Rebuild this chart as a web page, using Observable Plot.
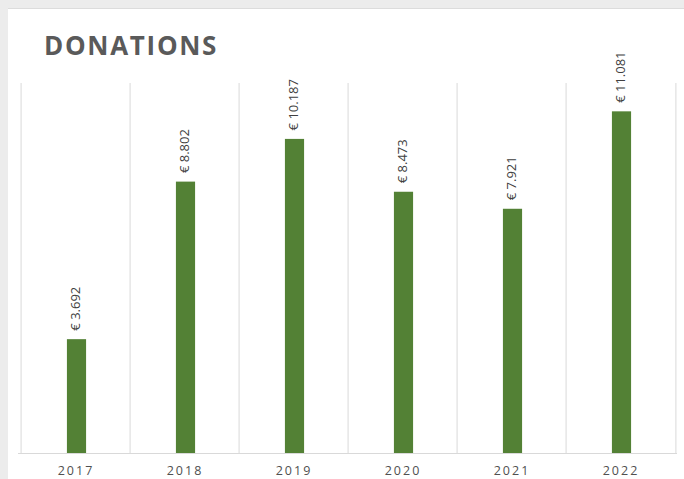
<!DOCTYPE html>
<html>
<head>
<meta charset="utf-8">
<script src="https://cdn.jsdelivr.net/npm/d3@7"></script>
<script src="https://cdn.jsdelivr.net/npm/@observablehq/plot@0.6"></script>
<style>
  html, body { margin: 0; padding: 0; background: #ececec; width: 684px; height: 479px; overflow: hidden; }
  #panel { position: absolute; left: 8px; top: 8px; width: 676px; height: 471px; background: #fff; border-top: 1px solid #dcdcdc; box-sizing: border-box; }
  #title { position: absolute; left: 36px; top: 18px; margin: 0; font-family: "Open Sans", sans-serif; font-weight: 700; font-size: 26px; line-height: normal; letter-spacing: 1.7px; color: #5a5a5a; z-index: 2; }
  #chart { position: absolute; left: 0; top: -1px; z-index: 1; }
</style>
</head>
<body>
<div id="panel">
  <div id="chart"></div>
  <h1 id="title">DONATIONS</h1>
</div>
<script>
const years = ["2017", "2018", "2019", "2020", "2021", "2022"];
const donations = [3692, 8802, 10187, 8473, 7921, 11081];
const yMax = 12000;

const data = years.map((y, i) => ({year: y, value: donations[i]}));
const nl = d3.formatLocale({decimal: ",", thousands: ".", grouping: [3], currency: ["€ ", ""]});
const fmt = nl.format("$,.0f");

const W = 676, H = 472, ml = 10, mr = 7, mt = 75, mb = 27;
const bw = (W - ml - mr) / years.length;

const plot = Plot.plot({
  width: W,
  height: H,
  marginLeft: ml,
  marginRight: mr,
  marginTop: mt,
  marginBottom: mb,
  x: {domain: years, padding: 0, label: null, tickSize: 0, tickPadding: 13},
  y: {domain: [0, yMax], axis: null},
  style: {fontFamily: "Open Sans, sans-serif", background: "transparent", overflow: "visible"},
  marks: [
    Plot.ruleX(years, {x: d => d, dx: -bw / 2, y1: 0, y2: yMax, stroke: "#d9d9d9"}),
    Plot.ruleX([years[years.length - 1]], {x: d => d, dx: bw / 2, y1: 0, y2: yMax, stroke: "#d9d9d9"}),
    Plot.ruleY([0], {stroke: "#d9d9d9"}),
    Plot.barY(data, {x: "year", y: "value", fill: "#538135", insetLeft: (bw - 20) / 2 + 1, insetRight: (bw - 20) / 2 - 1}),
    Plot.text(data, {x: "year", y: "value", text: d => fmt(d.value), rotate: -90, textAnchor: "start", dy: -9, fontSize: 13, fill: "#404040", style: "letter-spacing:1px"})
  ]
});
d3.select(plot).selectAll("g[aria-label='x-axis tick label']").attr("font-size", 12.5).attr("fill", "#505050");
d3.select(plot).selectAll("g[aria-label='x-axis tick label'] text").style("letter-spacing", "2px");
document.getElementById("chart").appendChild(plot);
</script>
</body>
</html>
